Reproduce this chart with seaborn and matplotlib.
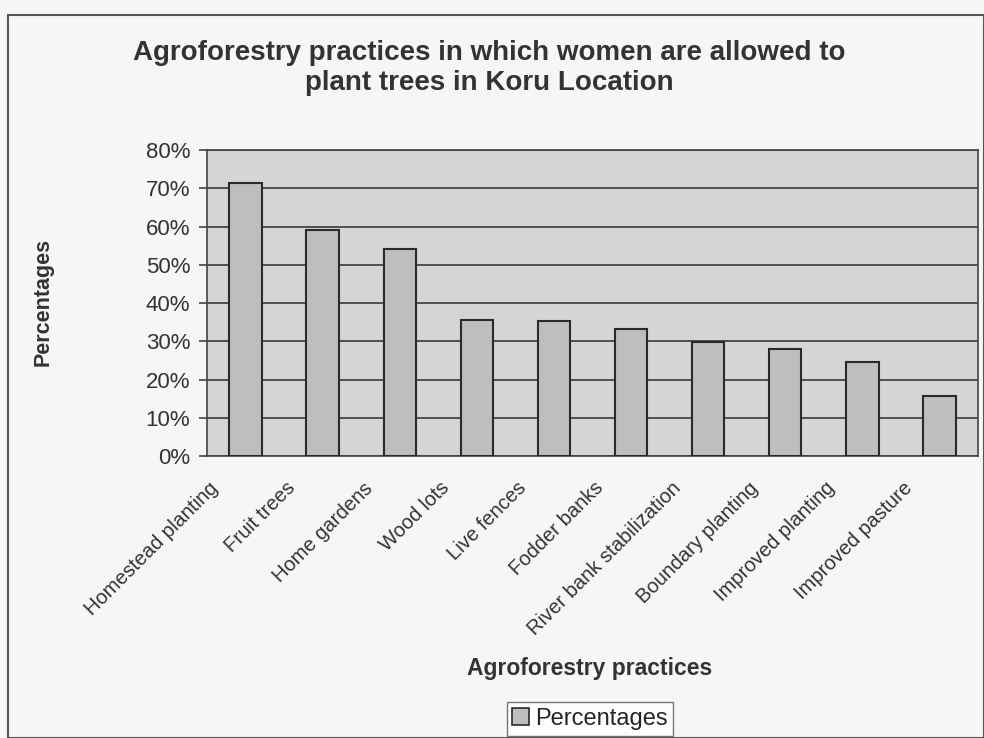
import matplotlib
matplotlib.use("Agg")
import matplotlib.pyplot as plt
import matplotlib.patches as mpatches
import matplotlib.transforms as mtransforms
import numpy as np
import pandas as pd
import seaborn as sns
from matplotlib.ticker import PercentFormatter


practices = [
    "Homestead planting",
    "Fruit trees",
    "Home gardens",
    "Wood lots",
    "Live fences",
    "Fodder banks",
    "River bank stabilization",
    "Boundary planting",
    "Improved planting",
    "Improved pasture",
]
percentages = [71.5, 59, 54, 35.5, 35.3, 33.3, 29.8, 28, 24.5, 15.8]
y_ticks = [0, 10, 20, 30, 40, 50, 60, 70, 80]

PLOT_BG = "#d5d5d5"
BAR_COLOR = "#bebebe"
EDGE = "#2a2a2a"
TEXT = "#333333"


def main():
    sns.set_theme(style="white")
    plt.rcParams["font.family"] = ["Liberation Sans", "DejaVu Sans"]

    df = pd.DataFrame({"practice": practices, "pct": percentages})

    fig = plt.figure(figsize=(9.84, 7.38), dpi=100, facecolor="#f6f6f4")
    ax = fig.add_axes([207 / 984, 1 - 456 / 738, (978 - 207) / 984, (456 - 150) / 738])

    sns.barplot(data=df, x="practice", y="pct", color=BAR_COLOR, width=0.42,
                edgecolor=EDGE, linewidth=1.5, saturation=1, ax=ax, zorder=3)

    ax.set_facecolor(PLOT_BG)
    ax.set_ylim(0, 80)
    ax.set_xlim(-0.5, len(practices) - 0.5)
    ax.set_yticks(y_ticks)
    ax.yaxis.set_major_formatter(PercentFormatter(decimals=0))
    ax.grid(axis="y", color="#3a3a3a", linewidth=1.2, zorder=1)
    ax.set_axisbelow(True)

    ax.set_xticks(np.arange(len(practices) + 1) - 0.5, minor=True)
    ax.tick_params(axis="x", which="major", length=0, pad=4)
    ax.tick_params(axis="x", which="minor", length=6, width=1.2, color="#444444", direction="out")
    ax.tick_params(axis="y", length=6, width=1.2, color="#444444", direction="out", left=True, pad=6)
    ax.set_xticklabels(practices, rotation=45, ha="right", rotation_mode="anchor",
                       fontsize=14.5, color=TEXT)
    shift = mtransforms.ScaledTranslation(-37 / 100, -17 / 100, fig.dpi_scale_trans)
    for lbl in ax.get_xticklabels():
        lbl.set_transform(lbl.get_transform() + shift)
    for lbl in ax.get_yticklabels():
        lbl.set_fontsize(16)
        lbl.set_color(TEXT)

    for side, spine in ax.spines.items():
        spine.set_visible(True)
        spine.set_color("#444444")
        spine.set_linewidth(1.2)

    ax.set_xlabel("")
    ax.set_ylabel("")
    fig.text(43 / 984, 1 - 302 / 738, "Percentages", rotation=90, ha="center", va="center",
             fontsize=15.5, fontweight="bold", color=TEXT)
    fig.text(590 / 984, 1 - 668 / 738, "Agroforestry practices", ha="center", va="center",
             fontsize=16.5, fontweight="bold", color=TEXT)
    fig.text(489 / 984, 1 - 68 / 738,
             "Agroforestry practices in which women are allowed to\nplant trees in Koru Location",
             ha="center", va="center", fontsize=20, fontweight="bold", color=TEXT,
             linespacing=1.25)

    handle = mpatches.Patch(facecolor=BAR_COLOR, edgecolor=EDGE, linewidth=1.2, label="Percentages")
    leg = fig.legend(handles=[handle], loc="center", bbox_to_anchor=(590 / 984, 1 - 719 / 738),
                     frameon=True, fancybox=False, fontsize=17, handlelength=0.7,
                     handleheight=0.7, handletextpad=0.25, borderpad=0.25)
    leg.get_frame().set_edgecolor("#555555")
    leg.get_frame().set_facecolor("white")
    leg.get_frame().set_linewidth(1.0)

    border = mpatches.Rectangle((8 / 984, 0.0), 1 - 8 / 984, 1 - 15 / 738, transform=fig.transFigure,
                                fill=False, edgecolor="#555555", linewidth=1.5)
    fig.patches.append(border)

    fig.savefig("out.png", dpi=100, facecolor=fig.get_facecolor())
    plt.close(fig)


if __name__ == "__main__":
    main()
